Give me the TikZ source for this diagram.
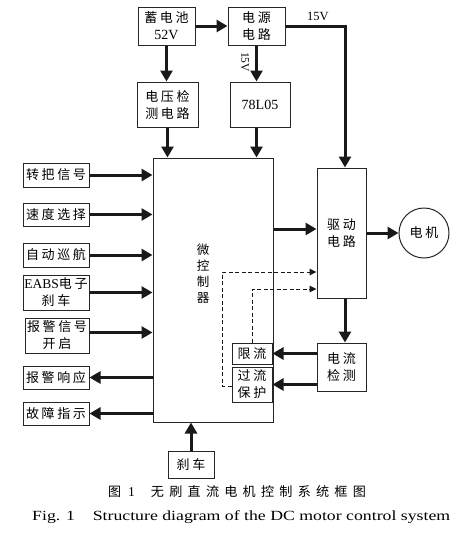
\documentclass[tikz,border=0pt]{standalone}
\usepackage{fontspec}
\setmainfont{Liberation Serif}
\newfontfamily\cjk{Noto Sans CJK SC}[LetterSpace=20]
\newfontfamily\cjkcap{Noto Sans CJK SC}[LetterSpace=40]
\usetikzlibrary{arrows.meta}
\begin{document}
\begin{tikzpicture}[x=1pt,y=-1pt,
  box/.style={draw=black!85, line width=1pt, inner sep=0pt, align=center,
    font=\cjk\fontsize{13}{17}\selectfont},
  arr/.style={line width=3pt, draw=black!90, -{Triangle[length=11pt,width=12pt]}},
  darr/.style={line width=1pt, draw=black!90, dash pattern=on 4pt off 2.5pt, -{Triangle[length=7pt,width=6.5pt]}}]
\useasboundingbox[fill=white] (0,0) rectangle (457,542);

% top row
\node[box, minimum width=57, minimum height=38] (bat) at (166.5,26) {蓄电池\\{\rmfamily\fontsize{14}{17}\selectfont 52V}};
\node[box, minimum width=57, minimum height=38] (pwr) at (256.5,26) {电源\\电路};
\node[box, minimum width=61, minimum height=45] (vdet) at (167.5,104.5) {电压检\\测电路};
\node[box, minimum width=60, minimum height=45, font=\rmfamily\fontsize{14}{16}\selectfont] (reg) at (260,104.5) {78L05};

% MCU
\node[box, minimum width=120, minimum height=264] (mcu) at (213,290) {};
\node[font=\cjk\fontsize{12.5}{16}\selectfont, align=center, inner sep=0pt] (mcutxt) at (203,274) {微\\控\\制\\器};

% left inputs / outputs
\node[box, minimum width=66, minimum height=24] (s1) at (56,175) {转把信号};
\node[box, minimum width=66, minimum height=23] (s2) at (56,214.5) {速度选择};
\node[box, minimum width=66, minimum height=24] (s3) at (56,255) {自动巡航};
\node[box, minimum width=66, minimum height=35] (s4) at (56,292.5) {{\rmfamily\fontsize{13.5}{17}\selectfont EABS}电子\\刹车};
\node[box, minimum width=64, minimum height=35] (s5) at (57,335.5) {报警信号\\开启};
\node[box, minimum width=66, minimum height=23] (o1) at (56,377.5) {报警响应};
\node[box, minimum width=66, minimum height=23] (o2) at (56,413.5) {故障指示};

% brake
\node[box, minimum width=46, minimum height=27] (brk) at (191,464.5) {刹车};

% right side
\node[box, minimum width=49, minimum height=130] (drv) at (341.5,233) {驱动\\电路};
\node[draw=black!85, line width=1pt, circle, minimum size=50, inner sep=0pt,
  font=\cjk\fontsize{13}{15}\selectfont] (mot) at (424,233) {电机};
\node[box, minimum width=49, minimum height=48] (cur) at (341.5,367) {电流\\检测};
\node[box, minimum width=40, minimum height=21] (lim) at (252,353.5) {限流};
\node[box, minimum width=40, minimum height=35] (ocp) at (252,384.5) {过流\\保护};

% power arrows
\draw[arr] (bat.east) -- (pwr.west);
\draw[arr] (bat.south) -- (bat.south |- vdet.north);
\draw[arr] (pwr.south) -- (pwr.south |- reg.north);
\node[font=\rmfamily\fontsize{11.5}{12}\selectfont, rotate=-90, inner sep=0pt] (l15b) at (245,62) {15V};
\coordinate (c15) at (345,26);
\draw[arr] (pwr.east) -- (c15) -- (c15 |- drv.north);
\node[font=\rmfamily\fontsize{12.5}{12}\selectfont, inner sep=0pt] (l15a) at (318,16) {15V};
\draw[arr] (vdet.south) -- (vdet.south |- mcu.north);
\draw[arr] (pwr.south |- reg.south) -- (pwr.south |- mcu.north);

% inputs
\foreach \n in {s1,s2,s3,s4}{\draw[arr] (\n.east) -- (\n.east -| mcu.west);}
\draw[arr] ([yshift=3pt]s5.east) -- ([yshift=3pt]s5.east -| mcu.west);
\foreach \n in {o1,o2}{\draw[arr] (\n.east -| mcu.west) -- (\n.east);}
\draw[arr] (brk.north) -- (brk.north |- mcu.south);

% drive
\draw[arr] ([yshift=4pt]drv.west -| mcu.east) -- ([yshift=4pt]drv.west);
\draw[arr] (drv.east) -- (mot.west);
\draw[arr] (drv.south -| c15) -- (c15 |- cur.north);
\draw[arr] (cur.west |- lim.east) -- (lim.east);
\draw[arr] (cur.west |- ocp.east) -- (ocp.east);

% dashed feedback
\coordinate (d1) at (222,272);
\coordinate (d2) at (252,289);
\draw[darr] ([yshift=-1.5pt]ocp.west) -| (d1) -- (d1 -| drv.west);
\draw[darr] (lim.north) -- (d2) -- (d2 -| drv.west);

% captions
\node[inner sep=0pt, anchor=west, font=\cjkcap\fontsize{13}{14}\selectfont] (cap1) at (108,492)
  {图\hspace{7pt}{\rmfamily\fontsize{13.5}{14}\selectfont 1}\hspace{16pt}\resizebox{215pt}{\height}{无刷直流电机控制系统框图}};
\node[inner sep=0pt, anchor=west, font=\rmfamily\fontsize{14}{15}\selectfont] (cap2) at (32,517)
  {\resizebox{418pt}{\height}{Fig. 1\hspace{14pt}Structure diagram of the DC motor control system}};
\end{tikzpicture}
\end{document}
